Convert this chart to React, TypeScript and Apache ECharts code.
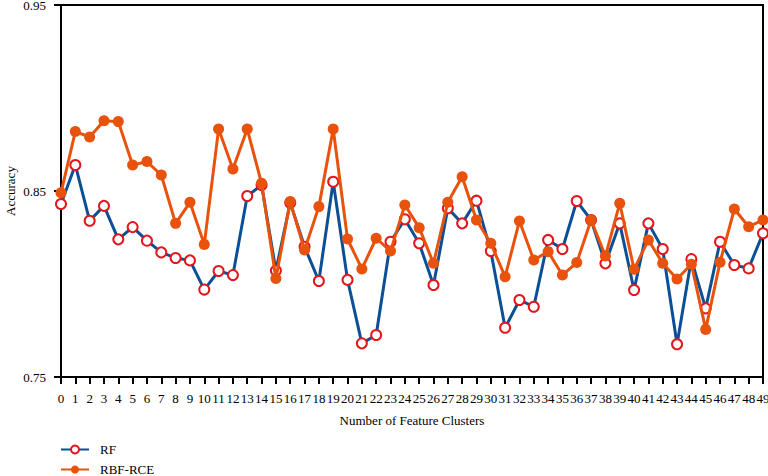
import React, { useEffect, useRef } from "react";
import * as echarts from "echarts";

const categories: string[] = Array.from({ length: 50 }, (_, i) => String(i));

const rfValues: number[] = [
  0.843, 0.864, 0.834, 0.842, 0.824, 0.8306, 0.8233, 0.817, 0.814, 0.8127,
  0.797, 0.807, 0.8048, 0.8473, 0.8532, 0.8072, 0.8437, 0.82, 0.8016, 0.855,
  0.8022, 0.7681, 0.7726, 0.8227, 0.8348, 0.8219, 0.7995, 0.8407, 0.8326, 0.8448,
  0.8177, 0.7765, 0.7914, 0.7878, 0.8237, 0.8188, 0.8446, 0.8344, 0.8111, 0.8326,
  0.7968, 0.8326, 0.8188, 0.7676, 0.8134, 0.7869, 0.8227, 0.8102, 0.8084, 0.8273,
];

const rbfRceValues: number[] = [
  0.849, 0.882, 0.879, 0.8878, 0.8873, 0.864, 0.8658, 0.8586, 0.8326, 0.8439,
  0.8213, 0.8833, 0.8618, 0.8833, 0.8541, 0.803, 0.8443, 0.8183, 0.8416, 0.8833,
  0.8242, 0.8081, 0.8246, 0.8177, 0.8425, 0.8303, 0.8111, 0.8439, 0.8577, 0.8344,
  0.8219, 0.8039, 0.8339, 0.8129, 0.8174, 0.8048, 0.8115, 0.8344, 0.815, 0.8434,
  0.8079, 0.8237, 0.8111, 0.8027, 0.8106, 0.7756, 0.8117, 0.8403, 0.8308, 0.8344,
];

const yTicks: number[] = [0.75, 0.85, 0.95];

const FONT = "Liberation Serif";

export default function App() {
  const ref = useRef<HTMLDivElement>(null);

  useEffect(() => {
    if (!ref.current) return;
    const chart = echarts.init(ref.current, null, { renderer: "svg" });
    chart.setOption({
      animation: false,
      backgroundColor: "#ffffff",
      textStyle: { fontFamily: FONT },
      grid: {
        left: 61,
        right: 5,
        top: 5,
        bottom: 99,
        containLabel: false,
        outerBoundsMode: "none",
        show: true,
        borderColor: "#000",
        borderWidth: 2,
      },
      legend: {
        orient: "vertical",
        left: 60,
        top: 443,
        height: 40,
        padding: 0,
        itemWidth: 28,
        itemHeight: 10,
        itemGap: 7,
        textStyle: {
          fontFamily: FONT,
          fontSize: 13,
          lineHeight: 12,
          color: "#000",
          padding: [0, 0, 0, 6],
        },
        data: ["RF", "RBF-RCE"],
      },
      xAxis: {
        type: "category",
        data: categories,
        boundaryGap: false,
        name: "Number of Feature Clusters",
        nameLocation: "middle",
        nameGap: 37,
        nameMoveOverlap: false,
        nameTextStyle: { fontFamily: FONT, fontSize: 13, color: "#000" },
        axisLine: { lineStyle: { color: "#000", width: 2 } },
        axisTick: {
          alignWithLabel: true,
          interval: 0,
          length: 7,
          lineStyle: { color: "#000", width: 2 },
        },
        axisLabel: {
          interval: 0,
          margin: 15,
          fontFamily: FONT,
          fontSize: 13,
          color: "#000",
        },
        splitLine: { show: false },
      },
      yAxis: {
        type: "value",
        min: 0.75,
        max: 0.95,
        name: "Accuracy",
        nameLocation: "middle",
        nameGap: 44,
        nameMoveOverlap: false,
        nameTextStyle: { fontFamily: FONT, fontSize: 13, color: "#000" },
        axisLine: { show: true, lineStyle: { color: "#000", width: 2 } },
        axisTick: {
          show: true,
          length: 7,
          customValues: yTicks,
          lineStyle: { color: "#000", width: 2 },
        },
        axisLabel: {
          customValues: yTicks,
          margin: 15,
          fontFamily: FONT,
          fontSize: 13,
          lineHeight: 10,
          color: "#000",
          formatter: (v: number) => v.toFixed(2),
        },
        splitLine: { show: false },
      },
      series: [
        {
          name: "RF",
          type: "line",
          data: rfValues,
          symbol: "emptyCircle",
          symbolSize: 10,
          lineStyle: { color: "#0b4f96", width: 3 },
          itemStyle: { color: "#e3161b", borderColor: "#e3161b", borderWidth: 2 },
          z: 2,
        },
        {
          name: "RBF-RCE",
          type: "line",
          data: rbfRceValues,
          symbol: "circle",
          symbolSize: 11,
          lineStyle: { color: "#e8520c", width: 3 },
          itemStyle: { color: "#e8520c" },
          z: 3,
        },
      ],
    });
    return () => chart.dispose();
  }, []);

  return (
    <div
      ref={ref}
      style={{ position: "fixed", left: 0, top: 0, width: 768, height: 476 }}
    />
  );
}
